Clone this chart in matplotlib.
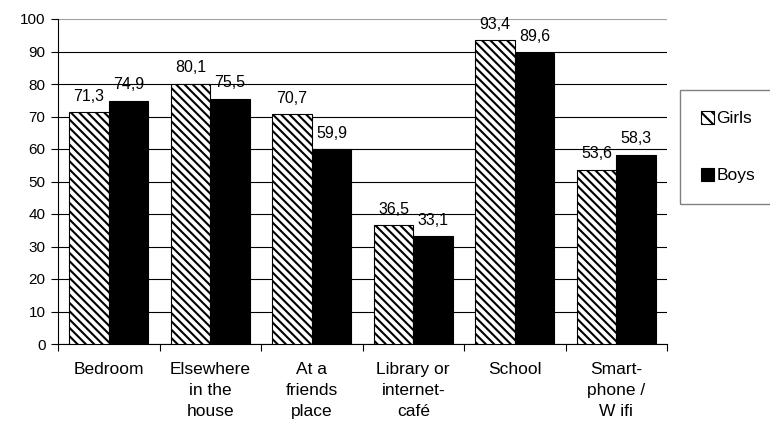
import matplotlib
matplotlib.use("Agg")
import matplotlib.pyplot as plt
import numpy as np
from matplotlib.patches import Patch

categories = ["Bedroom", "Elsewhere\nin the\nhouse", "At a\nfriends\nplace",
              "Library or\ninternet-\ncafé", "School", "Smart-\nphone /\nW ifi"]
girls = [71.3, 80.1, 70.7, 36.5, 93.4, 53.6]
boys = [74.9, 75.5, 59.9, 33.1, 89.6, 58.3]
series_names = ["Girls", "Boys"]
yticks = [0, 10, 20, 30, 40, 50, 60, 70, 80, 90, 100]

plt.rcParams["font.family"] = ["Liberation Sans", "DejaVu Sans"]
plt.rcParams["hatch.linewidth"] = 1.5
plt.rcParams["hatch.color"] = "black"

fig = plt.figure(figsize=(7.7, 4.21), dpi=100)
ax = fig.add_axes([58 / 770, 1 - 344 / 421, (667 - 58) / 770, (344 - 19) / 421])

x = np.arange(len(categories))
w = 0.39
ax.bar(x - w / 2, girls, width=w, facecolor="white", edgecolor="black",
       hatch="\\\\\\\\", linewidth=0.8, zorder=3)
ax.bar(x + w / 2, boys, width=w, facecolor="black", edgecolor="black",
       linewidth=0.8, zorder=3)

def fmt(v):
    return f"{v:.1f}".replace(".", ",")

for xi, g, b in zip(x, girls, boys):
    for xx, v in ((xi - w / 2, g), (xi + w / 2, b)):
        ax.annotate(fmt(v), (xx, v), xytext=(0, 6), textcoords="offset points",
                    ha="center", va="bottom", fontsize=11.5)

ax.set_xlim(-0.5, len(categories) - 0.5)
ax.set_ylim(0, 100)
ax.set_yticks(yticks)
ax.set_yticklabels([str(t) for t in yticks], fontsize=11)
ax.set_xticks(np.arange(-0.5, len(categories), 1.0))
ax.set_xticklabels([])
ax.set_xticks(x, minor=True)
ax.set_xticklabels(categories, minor=True, fontsize=12.5, linespacing=1.48, va="top")
ax.tick_params(axis="x", which="minor", length=0, pad=13)
ax.tick_params(axis="x", which="major", length=5, width=0.8, direction="out")
ax.tick_params(axis="y", length=5, width=0.8, direction="out", pad=4)

ax.yaxis.grid(True, color="black", linewidth=0.8, zorder=0)
ax.set_axisbelow(True)
gl = ax.yaxis.get_gridlines()
gl[-1].set_color("#a0a0a0")
ax.spines["top"].set_visible(False)
ax.spines["right"].set_visible(False)
ax.spines["left"].set_linewidth(0.8)
ax.spines["bottom"].set_linewidth(0.8)

handles = [Patch(facecolor="white", edgecolor="black", hatch="\\\\\\", linewidth=0.8),
           Patch(facecolor="black", edgecolor="black", linewidth=0.8)]
leg = fig.legend(handles, series_names, loc="upper left",
                 bbox_to_anchor=(680 / 770, 1 - 90 / 421), fontsize=12.5,
                 frameon=True, fancybox=False, handlelength=0.75, handleheight=0.75,
                 handletextpad=0.15, labelspacing=2.4, borderpad=1.2, borderaxespad=0)
leg.get_frame().set_edgecolor("#606060")
leg.get_frame().set_linewidth(1.0)

fig.savefig("out.png", dpi=100)
